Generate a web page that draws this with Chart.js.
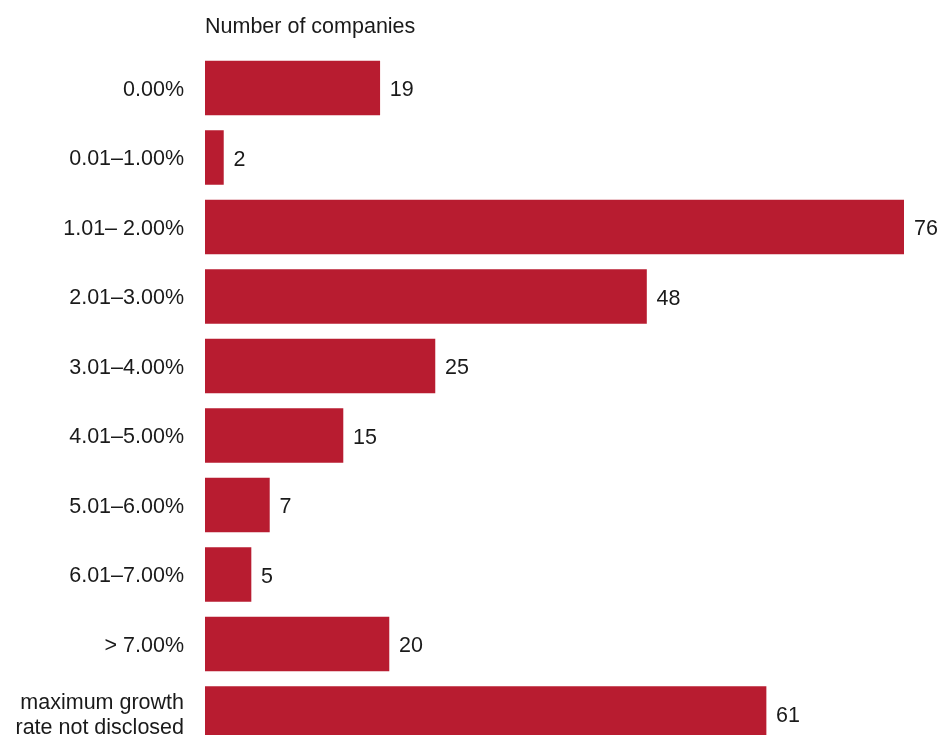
<!DOCTYPE html>
<html>
<head>
<meta charset="utf-8">
<script src="https://cdn.jsdelivr.net/npm/chart.js@4"></script>
<style>
  html, body { margin: 0; padding: 0; background: #fff; overflow: hidden; }
  #wrap { width: 939px; height: 760px; }
</style>
</head>
<body>
<div id="wrap"><canvas id="chart" width="939" height="760"></canvas></div>
<script>
// Growth-rate bands (category labels)
const categories = [
  '0.00%',
  '0.01\u20131.00%',
  '1.01\u2013 2.00%',
  '2.01\u20133.00%',
  '3.01\u20134.00%',
  '4.01\u20135.00%',
  '5.01\u20136.00%',
  '6.01\u20137.00%',
  '> 7.00%',
  ['maximum growth', 'rate not disclosed']
];

// Number of companies in each band
const companies = [19, 2, 76, 48, 25, 15, 7, 5, 20, 61];

const axisTitle = 'Number of companies';

const BAR_COLOR = '#b81c30';
const TEXT_COLOR = '#1a1a1a';
const FONT_FAMILY = '"Liberation Sans", Arial, Helvetica, sans-serif';
const FONT_SIZE = 21.5;

// Writes each bar's value just past its end
const valueLabels = {
  id: 'valueLabels',
  afterDatasetsDraw(chart) {
    const ctx = chart.ctx;
    const meta = chart.getDatasetMeta(0);
    ctx.save();
    ctx.font = FONT_SIZE + 'px ' + FONT_FAMILY;
    ctx.fillStyle = TEXT_COLOR;
    ctx.textAlign = 'left';
    ctx.textBaseline = 'middle';
    meta.data.forEach((bar, i) => {
      ctx.fillText(String(chart.data.datasets[0].data[i]), bar.x + 10, bar.y + 2.5);
    });
    ctx.restore();
  }
};

new Chart(document.getElementById('chart'), {
  type: 'bar',
  data: {
    labels: categories,
    datasets: [{
      data: companies,
      backgroundColor: BAR_COLOR,
      borderWidth: 0,
      barThickness: 54
    }]
  },
  options: {
    indexAxis: 'y',
    responsive: false,
    animation: false,
    events: [],
    layout: { padding: { left: 0, right: 35, top: 0, bottom: 11.75 } },
    plugins: {
      legend: { display: false },
      tooltip: { enabled: false }
    },
    scales: {
      x: {
        position: 'top',
        min: 0,
        max: 76,
        grid: { display: false, drawTicks: false },
        border: { display: false },
        ticks: { display: false },
        title: {
          display: true,
          text: axisTitle,
          align: 'start',
          color: TEXT_COLOR,
          font: { family: FONT_FAMILY, size: FONT_SIZE, lineHeight: 1.15 },
          padding: { top: 15, bottom: 0 }
        },
        afterFit(scale) { scale.height = 53.25; scale.paddingLeft = 0; scale.paddingRight = 0; }
      },
      y: {
        grid: { display: false, drawTicks: false },
        border: { display: false },
        ticks: {
          color: TEXT_COLOR,
          padding: 21,
          labelOffset: 2,
          font: { family: FONT_FAMILY, size: FONT_SIZE, lineHeight: 1.15 }
        },
        afterFit(scale) { scale.width = 205; scale.paddingTop = 0; scale.paddingBottom = 0; }
      }
    }
  },
  plugins: [valueLabels]
});
</script>
</body>
</html>
